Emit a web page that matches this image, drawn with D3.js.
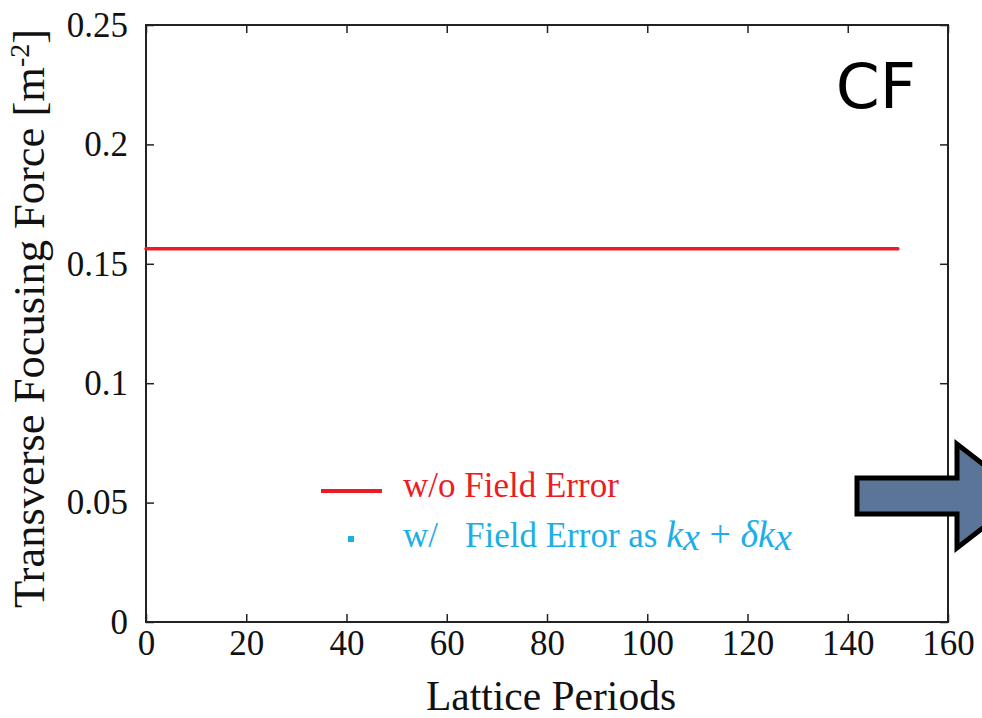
<!doctype html>
<html lang="en">
<head>
<meta charset="utf-8">
<title>Transverse Focusing Force - CF</title>
<script src="https://cdn.jsdelivr.net/npm/d3@7"></script>
<style>
  html, body { margin: 0; padding: 0; background: #fff; }
  svg { display: block; }
  text { font-family: "Liberation Serif", "Times New Roman", serif; fill: #111; }
</style>
</head>
<body>
<div id="chart"></div>
<script>
// data
var xTicks = [0, 20, 40, 60, 80, 100, 120, 140, 160];
var yTicks = [0, 0.05, 0.1, 0.15, 0.2, 0.25];
var yTickLabels = ["0", "0.05", "0.1", "0.15", "0.2", "0.25"];
// w/o field error: flat line from period 0 to 150
var periodsNoErr = [0, 150];
var forceNoErr = [0.1563, 0.1563];
// w/ field error: no points visible in the picture, legend only
var periodsErr = [];
var forceErr = [];

var width = 982, height = 718;
var margin = {left: 146, right: 34, top: 25, bottom: 96};
var red = "#ec1c24", blue = "#1caee6";

var svg = d3.select("#chart").append("svg")
    .attr("width", width)
    .attr("height", height);

var x = d3.scaleLinear().domain([0, 160]).range([margin.left, width - margin.right]);
var y = d3.scaleLinear().domain([0, 0.25]).range([height - margin.bottom, margin.top]);

// frame
svg.append("rect")
    .attr("x", x(0)).attr("y", y(0.25))
    .attr("width", x(160) - x(0)).attr("height", y(0) - y(0.25))
    .attr("fill", "none").attr("stroke", "#222").attr("stroke-width", 2);

function styleAxis(g, hideText) {
    g.select(".domain").remove();
    g.selectAll(".tick line").attr("stroke", "#222").attr("stroke-width", 1.5);
    g.selectAll(".tick text").attr("fill", "#111").style("font-size", "35px")
        .style("font-family", "'Liberation Serif', serif");
    if (hideText) g.selectAll(".tick text").remove();
}

svg.append("g").attr("transform", "translate(0," + y(0) + ")")
    .call(d3.axisBottom(x).tickValues(xTicks).tickSize(-8).tickPadding(8))
    .call(styleAxis, false);
svg.append("g").attr("transform", "translate(0," + y(0.25) + ")")
    .call(d3.axisTop(x).tickValues(xTicks).tickSize(-8))
    .call(styleAxis, true);
svg.append("g").attr("transform", "translate(" + x(0) + ",0)")
    .call(d3.axisLeft(y).tickValues(yTicks).tickSize(-8).tickPadding(18)
        .tickFormat(function(d, i) { return yTickLabels[i]; }))
    .call(styleAxis, false);
svg.append("g").attr("transform", "translate(" + x(160) + ",0)")
    .call(d3.axisRight(y).tickValues(yTicks).tickSize(-8))
    .call(styleAxis, true);

// series
var line = d3.line().x(function(d) { return x(d[0]); }).y(function(d) { return y(d[1]); });
svg.append("path")
    .datum(d3.zip(periodsNoErr, forceNoErr))
    .attr("d", line)
    .attr("fill", "none").attr("stroke", red).attr("stroke-width", 3.5)
    .attr("stroke-linecap", "round");

svg.selectAll(".pt")
    .data(d3.zip(periodsErr, forceErr))
    .enter().append("rect")
    .attr("class", "pt")
    .attr("x", function(d) { return x(d[0]) - 3; })
    .attr("y", function(d) { return y(d[1]) - 3; })
    .attr("width", 6).attr("height", 6)
    .attr("fill", blue);

// axis titles
svg.append("text")
    .attr("x", (x(0) + x(160)) / 2 + 4).attr("y", 710)
    .attr("text-anchor", "middle")
    .style("font-size", "41.5px")
    .text("Lattice Periods");

var yt = svg.append("text")
    .attr("transform", "translate(44," + ((y(0) + y(0.25)) / 2 - 5) + ") rotate(-90)")
    .attr("text-anchor", "middle")
    .style("font-size", "44.5px");
yt.append("tspan").text("Transverse Focusing Force [m");
yt.append("tspan").attr("dy", -15).style("font-size", "28px").text("-2");
yt.append("tspan").attr("dy", 15).text("]");

// CF label
svg.append("text")
    .attr("x", 916).attr("y", 108)
    .attr("text-anchor", "end")
    .style("font-family", "'DejaVu Sans', sans-serif")
    .style("font-size", "63px")
    .style("fill", "#000")
    .text("CF");

// legend
var lg = svg.append("g");
lg.append("line")
    .attr("x1", 321).attr("x2", 382).attr("y1", 491).attr("y2", 491)
    .attr("stroke", red).attr("stroke-width", 4);
lg.append("text").attr("x", 403).attr("y", 497)
    .style("font-size", "35px").style("fill", red)
    .text("w/o Field Error");

lg.append("rect")
    .attr("x", 348).attr("y", 536).attr("width", 6).attr("height", 6)
    .attr("fill", blue);
var t2 = lg.append("text").attr("x", 403).attr("y", 547)
    .style("font-size", "35px").style("fill", blue);
t2.append("tspan").text("w/");
t2.append("tspan").attr("x", 465).text("Field Error as ");
t2.append("tspan").style("font-style", "italic").style("font-size", "38px").text("k");
t2.append("tspan").style("font-style", "italic").style("font-size", "38px").attr("dy", 3).text("x");
t2.append("tspan").attr("dy", -3).style("font-size", "38px").text(" + ");
t2.append("tspan").style("font-style", "italic").style("font-size", "38px").text("\u03b4k");
t2.append("tspan").style("font-style", "italic").style("font-size", "38px").attr("dy", 3).text("x");

// arrow annotation on the right edge
var arrow = [[857, 478], [957, 478], [957, 444], [1024, 496], [957, 548], [957, 514], [857, 514]];
svg.append("path")
    .attr("d", d3.line()(arrow) + "Z")
    .attr("fill", "#5a7597")
    .attr("stroke", "#000")
    .attr("stroke-width", 5)
    .attr("stroke-linejoin", "miter");
</script>
</body>
</html>
